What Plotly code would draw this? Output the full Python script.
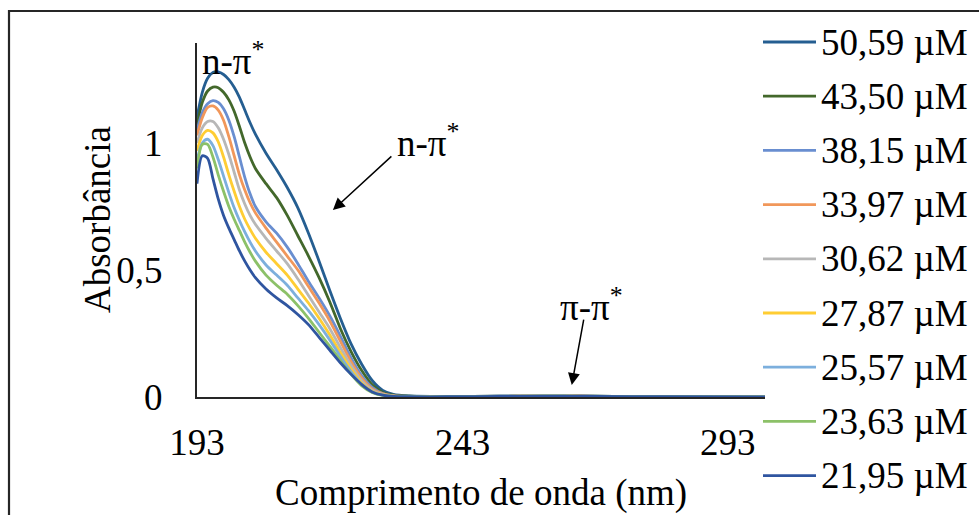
import plotly.graph_objects as go

# Wavelength grid (nm) at which the spectra were sampled
wavelength = [193, 194, 195, 196, 197, 198, 199, 200, 201, 202, 203, 204, 206, 208, 210,
              212, 214, 216, 218, 220, 222, 224, 226, 228, 230, 233, 240, 250, 258, 262,
              268, 280, 300]

# Absorbance spectra, one list per concentration
abs_50_59 = [1.10, 1.20, 1.255, 1.278, 1.28, 1.27, 1.25, 1.22, 1.18, 1.13, 1.08, 1.035, 0.96,
             0.895, 0.825, 0.745, 0.645, 0.535, 0.42, 0.31, 0.21, 0.13, 0.065, 0.026, 0.01, 0.004,
             0.002, 0.003, 0.006, 0.006, 0.003, 0.001, 0.0]
abs_43_50 = [1.07, 1.16, 1.205, 1.22, 1.218, 1.20, 1.17, 1.125, 1.065, 1.0, 0.945, 0.90, 0.84,
             0.785, 0.715, 0.635, 0.555, 0.47, 0.375, 0.27, 0.18, 0.105, 0.048, 0.018, 0.007, 0.003,
             0.002, 0.003, 0.005, 0.005, 0.003, 0.001, 0.0]
abs_38_15 = [1.05, 1.12, 1.155, 1.167, 1.16, 1.135, 1.09, 1.025, 0.945, 0.865, 0.80, 0.75, 0.69,
             0.645, 0.59, 0.525, 0.455, 0.39, 0.32, 0.24, 0.155, 0.085, 0.038, 0.014, 0.005, 0.002,
             0.001, 0.003, 0.005, 0.005, 0.002, 0.001, 0.0]
abs_33_97 = [1.03, 1.10, 1.14, 1.146, 1.13, 1.09, 1.025, 0.95, 0.875, 0.815, 0.765, 0.725, 0.665,
             0.61, 0.555, 0.50, 0.435, 0.37, 0.30, 0.22, 0.14, 0.075, 0.032, 0.012, 0.004, 0.002,
             0.001, 0.002, 0.005, 0.005, 0.002, 0.001, 0.0]
abs_30_62 = [1.00, 1.06, 1.085, 1.085, 1.06, 1.015, 0.955, 0.885, 0.815, 0.76, 0.715, 0.68, 0.625,
             0.575, 0.525, 0.465, 0.40, 0.335, 0.27, 0.195, 0.125, 0.065, 0.027, 0.01, 0.003, 0.001,
             0.001, 0.002, 0.004, 0.004, 0.002, 0.001, 0.0]
abs_27_87 = [0.97, 1.03, 1.05, 1.04, 1.005, 0.945, 0.875, 0.81, 0.75, 0.70, 0.66, 0.625, 0.57,
             0.525, 0.48, 0.425, 0.37, 0.31, 0.245, 0.175, 0.11, 0.055, 0.022, 0.008, 0.003, 0.001,
             0.001, 0.002, 0.004, 0.004, 0.002, 0.001, 0.0]
abs_25_57 = [0.93, 1.00, 1.015, 0.99, 0.935, 0.87, 0.805, 0.745, 0.695, 0.65, 0.61, 0.575, 0.52,
             0.48, 0.44, 0.39, 0.34, 0.285, 0.225, 0.16, 0.10, 0.05, 0.02, 0.007, 0.002, 0.001,
             0.001, 0.002, 0.004, 0.004, 0.002, 0.001, 0.0]
abs_23_63 = [0.90, 0.995, 0.995, 0.945, 0.875, 0.81, 0.75, 0.70, 0.655, 0.61, 0.57, 0.535, 0.48,
             0.44, 0.405, 0.36, 0.31, 0.255, 0.20, 0.145, 0.09, 0.045, 0.018, 0.006, 0.002, 0.001,
             0.001, 0.002, 0.003, 0.003, 0.002, 0.001, 0.0]
abs_21_95 = [0.84, 0.95, 0.94, 0.86, 0.78, 0.715, 0.665, 0.62, 0.575, 0.535, 0.50, 0.47, 0.425,
             0.39, 0.36, 0.325, 0.285, 0.235, 0.185, 0.135, 0.09, 0.05, 0.02, 0.007, 0.002, 0.001,
             0.001, 0.002, 0.003, 0.003, 0.002, 0.001, 0.0]

series_names = ["50,59 µM", "43,50 µM", "38,15 µM", "33,97 µM", "30,62 µM",
                "27,87 µM", "25,57 µM", "23,63 µM", "21,95 µM"]
series_values = [abs_50_59, abs_43_50, abs_38_15, abs_33_97, abs_30_62,
                 abs_27_87, abs_25_57, abs_23_63, abs_21_95]
series_colors = ["#255E91", "#43682B", "#698ED0", "#F1975A", "#B7B7B7",
                 "#FFCD33", "#7CAFDD", "#8CC168", "#2F55A0"]

x_ticks = [193, 243, 293]
y_ticks = [0, 0.5, 1]
y_tick_text = ["0", "0,5", "1"]

FONT = "Liberation Serif, Times New Roman, serif"
FS = 37

# page geometry (pixels)
W, H = 979, 515
PL, PR, PT, PB = 197, 765, 43, 397   # plot area edges
pw, ph = PR - PL, PB - PT


def px_x(p):
    return (p - PL) / pw


def px_y(p):
    return (PB - p) / ph


fig = go.Figure()
for name, vals, col in zip(series_names, series_values, series_colors):
    fig.add_trace(go.Scatter(
        x=wavelength, y=vals, name=name, mode="lines",
        line=dict(color=col, width=2.8, shape="spline", smoothing=0.8),
        showlegend=False,
    ))

# legend drawn at the right: long line sample followed by the label
shapes = []
annotations = []
row0, row_step = 42, 54.2
for i, (name, col) in enumerate(zip(series_names, series_colors)):
    yc = row0 + i * row_step
    shapes.append(dict(type="line", xref="paper", yref="paper",
                       x0=px_x(763), x1=px_x(816), y0=px_y(yc), y1=px_y(yc),
                       line=dict(color=col, width=2.8)))
    annotations.append(dict(xref="paper", yref="paper", x=px_x(819), y=px_y(yc),
                            text=name, showarrow=False, xanchor="left", yanchor="middle",
                            font=dict(family=FONT, size=FS, color="black")))

# outer chart frame
shapes.append(dict(type="rect", xref="paper", yref="paper",
                   x0=px_x(9), x1=px_x(1100), y0=px_y(700), y1=px_y(11),
                   line=dict(color="#262626", width=2.2), layer="below"))

# axis titles
annotations.append(dict(xref="paper", yref="paper", x=0.5, y=px_y(493),
                        text="Comprimento de onda (nm)", showarrow=False,
                        xanchor="center", yanchor="middle",
                        font=dict(family=FONT, size=FS, color="black")))
annotations.append(dict(xref="paper", yref="paper", x=px_x(97), y=0.5,
                        text="Absorbância", showarrow=False, textangle=-90,
                        xanchor="center", yanchor="middle",
                        font=dict(family=FONT, size=FS, color="black")))

# band labels and arrows
annotations.append(dict(xref="paper", yref="paper", x=px_x(200), y=px_y(58),
                        text="n-π<sup>*</sup>", showarrow=False, xanchor="left",
                        yanchor="middle", font=dict(family=FONT, size=FS, color="black")))
annotations.append(dict(xref="paper", yref="paper", x=px_x(395), y=px_y(140),
                        text="n-π<sup>*</sup>", showarrow=False, xanchor="left",
                        yanchor="middle", font=dict(family=FONT, size=FS, color="black")))
annotations.append(dict(xref="paper", yref="paper", x=px_x(558), y=px_y(304),
                        text="π-π<sup>*</sup>", showarrow=False, xanchor="left",
                        yanchor="middle", font=dict(family=FONT, size=FS, color="black")))
annotations.append(dict(x=218.6, y=0.736, ax=229.9, ay=0.953, xref="x", yref="y",
                        axref="x", ayref="y", text="", showarrow=True,
                        arrowhead=2, arrowsize=1.6, arrowwidth=1.5, arrowcolor="black"))
annotations.append(dict(x=263.6, y=0.047, ax=265.9, ay=0.311, xref="x", yref="y",
                        axref="x", ayref="y", text="", showarrow=True,
                        arrowhead=2, arrowsize=1.6, arrowwidth=1.5, arrowcolor="black"))

fig.update_layout(
    width=W, height=H, autosize=False,
    margin=dict(l=PL, r=W - PR, t=PT, b=H - PB, pad=0),
    paper_bgcolor="white", plot_bgcolor="white",
    showlegend=False,
    font=dict(family=FONT, size=FS, color="black"),
    shapes=shapes, annotations=annotations,
)
fig.update_xaxes(range=[193, 300], tickvals=x_ticks, ticktext=[str(v) for v in x_ticks],
                 showgrid=False, zeroline=False, showline=True, linecolor="#262626",
                 linewidth=2, ticks="", ticklabelstandoff=12,
                 tickfont=dict(family=FONT, size=FS, color="black"))
fig.update_yaxes(range=[0, 1.394], tickvals=y_ticks, ticktext=y_tick_text,
                 showgrid=False, zeroline=False, showline=True, linecolor="#262626",
                 linewidth=2, ticks="", ticklabelstandoff=25,
                 tickfont=dict(family=FONT, size=FS, color="black"))

fig.write_html("out.html")
